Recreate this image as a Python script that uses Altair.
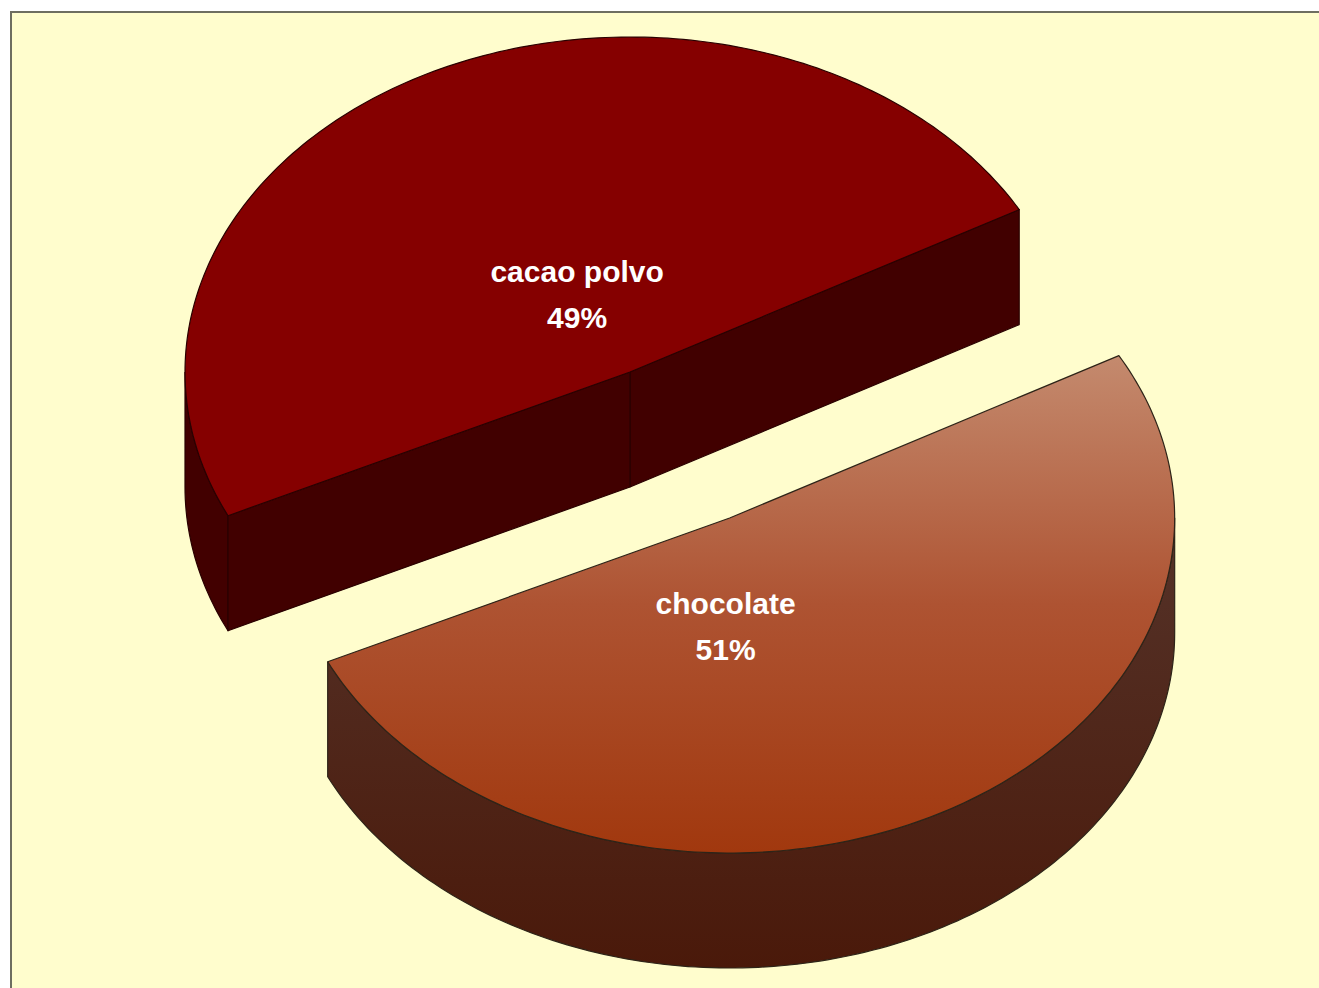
import math
import altair as alt
import pandas as pd

# ---------------- data ----------------
CATEGORIES = ["cacao polvo", "chocolate"]
VALUES = [49, 51]

# ---------------- layout / style constants ----------------
W, H = 1319, 988
PIE_CX, PIE_CY = 630, 372          # centre of the (un-exploded) pie top face
RX, RY = 445, 335                  # projected radii of the tilted pie
DEPTH = 115                        # thickness of the 3-D pie
START_DEG = 29                     # angle where the first slice starts (CCW)
EXPLODE = [0.0, 0.49]              # explode fraction of radius per slice
LABEL_R = 0.26
LABEL_NUDGE = [(0, 0), (-57, 32)]

BG = "#FFFDCD"
FRAME = "#6e6e60"


def grad(c0, c1, cm=None):
    stops = [alt.GradientStop(color=c0, offset=0)]
    if cm:
        stops.append(alt.GradientStop(color=cm, offset=0.5))
    stops.append(alt.GradientStop(color=c1, offset=1))
    return alt.Gradient(gradient="linear", stops=stops, x1=0, x2=0, y1=0, y2=1)


TOP_FILL = ["#850000", grad("#C48A6E", "#A1380E", "#AE5332")]
SIDE_FILL = ["#420000", grad("#553329", "#4A190A")]
CUT_FILL = ["#410000", "#410000"]
EDGE = ["#2a0000", "#2e2418"]

# ---------------- geometry derived from the values ----------------
total = sum(VALUES)


def pt(cx, cy, deg, dz=0.0):
    t = math.radians(deg)
    return cx + RX * math.cos(t), cy - RY * math.sin(t) + dz


def arc(cx, cy, a0, a1, dz=0.0):
    n = max(2, int(abs(a1 - a0)) + 1)
    return [pt(cx, cy, a0 + (a1 - a0) * k / (n - 1), dz) for k in range(n)]


faces = []      # (slice index, kind, list of points)
labels = []
ang = START_DEG
for i, v in enumerate(VALUES):
    s = ang
    e = ang + 360.0 * v / total
    ang = e
    mid = (s + e) / 2
    m = math.radians(mid)
    cx = PIE_CX + EXPLODE[i] * RX * math.cos(m)
    cy = PIE_CY - EXPLODE[i] * RY * math.sin(m)

    # visible outer rim (front half: 180..360 deg)
    for base in (-360, 0, 360):
        lo, hi = max(s, 180 + base), min(e, 360 + base)
        if hi > lo:
            poly = arc(cx, cy, lo, hi) + arc(cx, cy, hi, lo, DEPTH)
            faces.append((i, "side", poly + [poly[0]]))
    # cut faces facing the viewer
    for edge_deg, normal in ((s, s - 90), (e, e + 90)):
        if math.sin(math.radians(normal)) < 0:
            p = pt(cx, cy, edge_deg)
            poly = [(cx, cy), p, (p[0], p[1] + DEPTH), (cx, cy + DEPTH), (cx, cy)]
            faces.append((i, "cut", poly))
    # top face
    poly = [(cx, cy)] + arc(cx, cy, s, e) + [(cx, cy)]
    faces.append((i, "top", poly))

    lx = cx + LABEL_R * RX * math.cos(m) + LABEL_NUDGE[i][0]
    ly = cy - LABEL_R * RY * math.sin(m) + LABEL_NUDGE[i][1]
    labels.append({"x": lx, "y": ly, "name": CATEGORIES[i],
                   "pct": f"{round(100 * v / total)}%"})

rows = []
for fid, (i, kind, poly) in enumerate(faces):
    for k, (x, y) in enumerate(poly):
        rows.append({"face": fid, "k": k, "x": x, "y": y})
df = pd.DataFrame(rows)
lab = pd.DataFrame(labels)

xs = alt.Scale(domain=[0, W], nice=False, zero=False)
ys = alt.Scale(domain=[0, H], nice=False, zero=False, reverse=True)

one = pd.DataFrame({"a": [0]})
# white margin outside the chart frame (top strip and left strip)
white_top = alt.Chart(one).mark_rect(fill="#ffffff").encode(
    x=alt.value(0), x2=alt.value(W), y=alt.value(0), y2=alt.value(12))
white_left = alt.Chart(one).mark_rect(fill="#ffffff").encode(
    x=alt.value(0), x2=alt.value(11), y=alt.value(0), y2=alt.value(H))
frame_top = alt.Chart(one).mark_rule(stroke=FRAME, strokeWidth=2).encode(
    x=alt.value(10), x2=alt.value(W), y=alt.value(12))
frame_left = alt.Chart(one).mark_rule(stroke=FRAME, strokeWidth=2).encode(
    x=alt.value(11), y=alt.value(11), y2=alt.value(H))

layers = [white_top, white_left, frame_top, frame_left]
# painter's order: back slices first
order = sorted(range(len(faces)), key=lambda f: (faces[f][0], {"side": 0, "cut": 0, "top": 1}[faces[f][1]]))
for fid in order:
    i, kind, _ = faces[fid]
    fill = {"top": TOP_FILL, "side": SIDE_FILL, "cut": CUT_FILL}[kind][i]
    layers.append(
        alt.Chart(df).transform_filter(alt.datum.face == fid)
        .mark_line(fill=fill, stroke=EDGE[i], strokeWidth=1.2, strokeJoin="round")
        .encode(x=alt.X("x:Q", scale=xs, axis=None),
                y=alt.Y("y:Q", scale=ys, axis=None),
                order=alt.Order("k:Q"))
    )

txt = dict(font="Liberation Sans", fontWeight="bold", fontSize=30, color="white",
           align="center", baseline="alphabetic")
names = alt.Chart(lab).mark_text(dy=-13, **txt).encode(
    x=alt.X("x:Q", scale=xs, axis=None), y=alt.Y("y:Q", scale=ys, axis=None), text="name:N")
pcts = alt.Chart(lab).mark_text(dy=33, **txt).encode(
    x=alt.X("x:Q", scale=xs, axis=None), y=alt.Y("y:Q", scale=ys, axis=None), text="pct:N")
layers += [names, pcts]

chart = alt.layer(*layers).properties(
    width=W, height=H, padding=0,
    autosize=alt.AutoSizeParams(type="none"),
    background=BG,
).configure_view(strokeWidth=0)

chart.save("out.html", embed_options={"renderer": "svg", "actions": False})
